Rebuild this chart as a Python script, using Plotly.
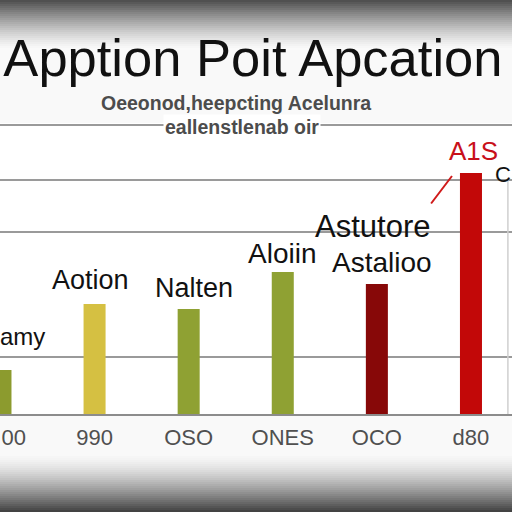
import plotly.graph_objects as go

# ---- data ----
categories = ["00", "990", "OSO", "ONES", "OCO", "d80"]
values = [44, 110, 105, 142, 130, 241]
bar_colors = ["#8c9b2e", "#d5c042", "#8fa133", "#8fa133", "#870808", "#c20808"]

label_texts = ["amy", "Aotion", "Nalten", "Aloiin", "Astutore", "Astalioo", "A1S"]
label_bar = [0, 1, 2, 3, 4, 4, 5]
grid_ticks = [57, 182, 234, 289]

title_text = "Apption Poit Apcation"
subtitle_lines = ["Oeeonod,heepcting Acelunra", "eallenstlenab oir"]

# ---- styles / layout helpers ----
W, H = 512, 512
M_T, M_B = 123, 98
PLOT_H = H - M_T - M_B
positions = list(range(len(categories)))
tick_nudge = [0.14, 0, 0, 0, 0, 0]   # keep the edge label inside the picture

def py(p):
    """pixel row -> paper y"""
    return (H - M_B - p) / PLOT_H

label_styles = [
    dict(size=24, color="#111111"),
    dict(xshift=-4, yshift=24, size=27, color="#111111"),
    dict(xshift=5, yshift=21, size=27, color="#111111"),
    dict(xshift=-1, yshift=19, size=28, color="#111111"),
    dict(xshift=-4, yshift=58, size=31, color="#111111"),
    dict(xshift=5, yshift=22, size=28, color="#111111"),
    dict(xshift=3, yshift=22, size=26, color="#c8101a"),
]

fig = go.Figure()
fig.add_trace(go.Bar(
    x=positions, y=values, marker_color=bar_colors, width=0.234,
    marker_line_width=0, showlegend=False, hoverinfo="skip",
))

annotations = []
for txt, bi, st in zip(label_texts, label_bar, label_styles):
    font = dict(family="Liberation Sans, Arial", size=st["size"], color=st["color"])
    if bi == 0:
        # label of the edge bar: pinned to the left edge of the picture
        annotations.append(dict(
            x=0, y=values[bi], xref="paper", yref="y", text=txt, showarrow=False,
            xanchor="left", yanchor="middle", yshift=34, xshift=-2, font=font,
        ))
    else:
        annotations.append(dict(
            x=positions[bi], y=values[bi], xref="x", yref="y",
            text=txt, showarrow=False, xanchor="center", yanchor="middle",
            xshift=st["xshift"], yshift=st["yshift"], font=font,
        ))

# red leader line near the tallest bar
annotations.append(dict(
    x=positions[5], y=values[5], xref="x", yref="y", text="",
    showarrow=True, arrowhead=0, arrowwidth=2, arrowcolor="#d01a1a",
    ax=-22, ay=29, xshift=-19, yshift=-3, standoff=0,
))

# glyph at the right edge
annotations.append(dict(
    x=1, y=grid_ticks[2], xref="paper", yref="y", text="C", showarrow=False,
    xanchor="right", yanchor="middle", xshift=1, yshift=6,
    font=dict(family="Liberation Sans, Arial", size=22, color="#111111"),
))

# subtitle
annotations.append(dict(
    x=236 / W, y=py(103), xref="paper", yref="paper",
    text="<b>" + subtitle_lines[0] + "</b>", showarrow=False,
    xanchor="center", yanchor="middle",
    font=dict(family="Liberation Sans, Arial", size=19.5, color="#4c4c4c"),
))
annotations.append(dict(
    x=242 / W, y=py(127), xref="paper", yref="paper",
    text="<b>" + subtitle_lines[1] + "</b>", showarrow=False,
    xanchor="center", yanchor="middle", bgcolor="#ffffff",
    font=dict(family="Liberation Sans, Arial", size=19.5, color="#4c4c4c"),
))

# vignette strips (top & bottom)
shapes = []
for p in range(0, 50, 2):
    t = max(0.0, 1 - p / 48)
    v = int(250 - (250 - 80) * t ** 1.3)
    shapes.append(dict(type="rect", xref="paper", yref="paper", x0=0, x1=1,
                       y0=py(p + 2), y1=py(p), line_width=0, layer="below",
                       fillcolor=f"rgb({v},{v},{v})"))
for p in range(456, 512, 2):
    t = (p - 456) / 56
    v = int(246 - (246 - 58) * t ** 1.4)
    shapes.append(dict(type="rect", xref="paper", yref="paper", x0=0, x1=1,
                       y0=py(p + 2), y1=py(p), line_width=0, layer="below",
                       fillcolor=f"rgb({v},{v},{v})"))
# faint right border
shapes.append(dict(type="line", xref="paper", yref="y", x0=0.992, x1=0.992,
                   y0=0, y1=grid_ticks[2], line=dict(color="#cfcfcf", width=1.5)))

fig.update_layout(
    width=W, height=H,
    margin=dict(l=0, r=0, t=M_T, b=M_B, pad=0),
    paper_bgcolor="#f9f9f9", plot_bgcolor="#ffffff",
    title=dict(text=title_text, x=0.494, xanchor="center", xref="container",
               y=1 - 58 / H, yanchor="middle", yref="container",
               font=dict(family="Liberation Sans, Arial", size=52.5, color="#111111")),
    xaxis=dict(range=[-0.005, 5.436], showgrid=False, zeroline=False,
               tickmode="array",
               tickvals=[p + n for p, n in zip(positions, tick_nudge)],
               ticktext=categories, ticklabeloverflow="allow",
               showline=True, linecolor="#8c8c8c", linewidth=2,
               ticks="", tickfont=dict(family="Liberation Sans, Arial", size=22, color="#505050"),
               ticklabelstandoff=3),
    yaxis=dict(range=[0, PLOT_H], tickvals=grid_ticks, showticklabels=False,
               showgrid=True, gridcolor="#9a9a9a", gridwidth=1.5, zeroline=False),
    annotations=annotations, shapes=shapes,
)

fig.write_html("out.html", config={"displayModeBar": False},
               post_script="document.body.style.margin='0';")
